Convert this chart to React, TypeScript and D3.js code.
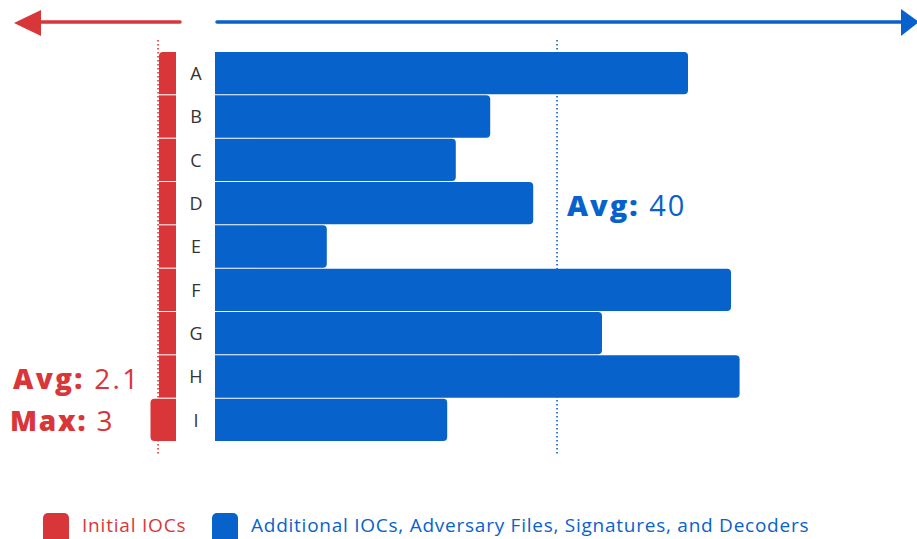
import React from "react";
import * as d3 from "d3";

const categories = ["A", "B", "C", "D", "E", "F", "G", "H", "I"];
const initialIOCs = [2, 2, 2, 2, 2, 2, 2, 2, 3];
const additionalIOCs = [55, 32, 28, 37, 13, 60, 45, 61, 27];
const legendLabels = ["Initial IOCs", "Additional IOCs, Adversary Files, Signatures, and Decoders"];

const RED = "#d9363a";
const BLUE = "#0862cc";
const FONT = "'Open Sans', Lato, sans-serif";

function roundedRect(x0: number, x1: number, y0: number, y1: number, rTL: number, rTR: number, rBR: number, rBL: number) {
  const p = d3.path();
  p.moveTo(x0 + rTL, y0);
  p.lineTo(x1 - rTR, y0);
  if (rTR) p.arcTo(x1, y0, x1, y0 + rTR, rTR);
  p.lineTo(x1, y1 - rBR);
  if (rBR) p.arcTo(x1, y1, x1 - rBR, y1, rBR);
  p.lineTo(x0 + rBL, y1);
  if (rBL) p.arcTo(x0, y1, x0, y1 - rBL, rBL);
  p.lineTo(x0, y0 + rTL);
  if (rTL) p.arcTo(x0, y0, x0 + rTL, y0, rTL);
  p.closePath();
  return p.toString();
}

export default function App() {
  const W = 917, H = 539;
  const y = d3.scaleBand<string>().domain(categories).range([52, 442]).padding(0);
  const xBlue = d3.scaleLinear().domain([0, 80]).range([215, 903]);
  const xRed = d3.scaleLinear().domain([0, 80]).range([176, 176 - 680]);
  const bw = y.bandwidth();
  const avgBlue = d3.mean(additionalIOCs)!;
  const avgRed = d3.mean(initialIOCs)!;
  const maxRed = d3.max(initialIOCs)!;

  return (
    <svg width={W} height={H} style={{ position: "absolute", left: 0, top: 0, display: "block" }} fontFamily={FONT}>
      <rect width={W} height={H} fill="#fff" />
      {/* arrows */}
      <line x1={180} x2={32} y1={22} y2={22} stroke={RED} strokeWidth={3.5} strokeLinecap="round" />
      <polygon points="14,23 41,10 41,36" fill={RED} />
      <line x1={217} x2={903} y1={22} y2={22} stroke={BLUE} strokeWidth={3.5} strokeLinecap="round" />
      <polygon points="919,22 901,9 901,36" fill={BLUE} />

      {/* red bars */}
      {categories.map((c, i) => {
        const v = initialIOCs[i];
        const prev = i > 0 ? initialIOCs[i - 1] : -1;
        const next = i < categories.length - 1 ? initialIOCs[i + 1] : -1;
        const y0 = y(c)!, y1 = y0 + bw - 1;
        const r = 4;
        return (
          <path key={c} d={roundedRect(xRed(v), xRed(0), y0, y1, prev < v ? r : 0, 0, 0, next < v ? r : 0)} fill={RED} />
        );
      })}
      {/* blue bars */}
      {categories.map((c, i) => {
        const y0 = y(c)!, y1 = y0 + bw - 1;
        return <path key={c} d={roundedRect(xBlue(0), xBlue(additionalIOCs[i]), y0, y1, 0, 4, 4, 0)} fill={BLUE} />;
      })}
      {/* category labels */}
      {categories.map((c) => (
        <text key={c} x={196} y={y(c)! + bw / 2} dy="0.36em" textAnchor="middle" fontSize={18} fill="#333">{c}</text>
      ))}

      {/* avg lines */}
      <line x1={xRed(avgRed)} x2={xRed(avgRed)} y1={40} y2={456} stroke={RED} strokeWidth={1.6} strokeDasharray="1.5 2.5" />
      <line x1={xBlue(avgBlue)} x2={xBlue(avgBlue)} y1={40} y2={456} stroke={BLUE} strokeWidth={1.6} strokeDasharray="1.5 2.5" />

      {/* annotations */}
      <text x={567} y={216} fontSize={29} fill={BLUE} letterSpacing={2}>
        <tspan fontWeight={800}>Avg:</tspan>
        <tspan> {d3.format(".0f")(avgBlue)}</tspan>
      </text>
      <text x={13} y={389} fontSize={28} fill={RED} letterSpacing={2.3}>
        <tspan fontWeight={800}>Avg:</tspan>
        <tspan> {d3.format(".1f")(avgRed)}</tspan>
      </text>
      <text x={10} y={431} fontSize={28} fill={RED} letterSpacing={1.8}>
        <tspan fontWeight={800}>Max:</tspan>
        <tspan> {maxRed}</tspan>
      </text>

      {/* legend */}
      <rect x={43} y={513} width={26} height={32} rx={5} fill={RED} />
      <text x={82} y={532} fontSize={19} fill={RED} letterSpacing={0.8}>{legendLabels[0]}</text>
      <rect x={212} y={513} width={26} height={32} rx={5} fill={BLUE} />
      <text x={251} y={532} fontSize={19} fill={BLUE} letterSpacing={0.75}>{legendLabels[1]}</text>
    </svg>
  );
}
